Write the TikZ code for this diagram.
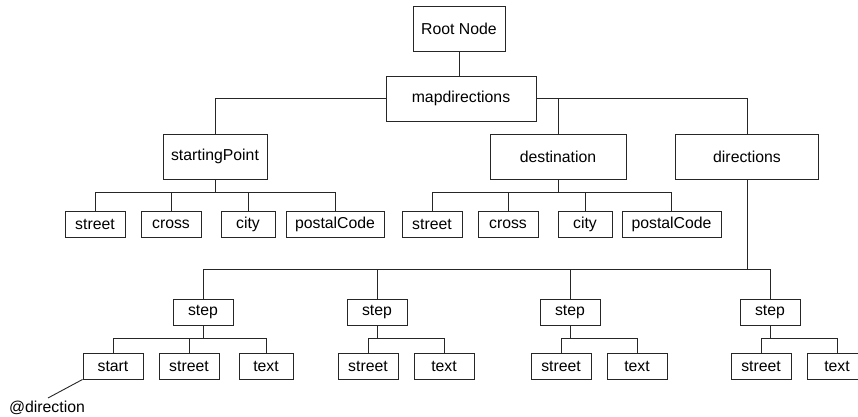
\documentclass[tikz,border=0pt]{standalone}
\usepackage{fontspec}
\setmainfont{Liberation Sans}
\usepackage{tikz}
\usetikzlibrary{positioning, calc}
\tikzset{
    box_tall/.style={
        rectangle, draw=black!85, line width=0.9pt, fill=white,
        minimum height=45, inner sep=0pt,
        align=center, font=\fontsize{15.8}{18}\selectfont
    },
    box_flat/.style={
        rectangle, draw=black!85, line width=0.9pt, fill=white,
        minimum height=26, minimum width=60, inner sep=0pt,
        align=center, font=\fontsize{15.8}{18}\selectfont
    },
    tree_line/.style={
        draw=black!85, line width=0.9pt
    },
    attr_lbl/.style={
        inner sep=0pt, font=\fontsize{15.8}{18}\selectfont
    }
}

\begin{document}
\begin{tikzpicture}[x=1pt, y=-1pt]

    \useasboundingbox (0,0) rectangle (858,416);
    \clip (0,0) rectangle (858,416);

    % upper levels
    \node[box_tall, minimum width=92]  (root)    at (459,29)    {Root Node};
    \node[box_tall, minimum width=150] (mapdir)  at (461,98.5)  {mapdirections};
    \node[box_tall, minimum width=104] (startpt) at (215,156.5) {startingPoint};
    \node[box_tall, minimum width=136] (dest)    at (558,156.5) {destination};
    \node[box_tall, minimum width=143] (dirs)    at (747,156.5) {directions};

    \node[box_flat]                   (sp_street) at (95,224)  {street};
    \node[box_flat]                   (sp_cross)  at (171,224) {cross};
    \node[box_flat, minimum width=54] (sp_city)   at (248,224) {city};
    \node[box_flat, minimum width=98] (sp_postal) at (335,224) {postalCode};

    \node[box_flat]                   (de_street) at (432,224)   {street};
    \node[box_flat]                   (de_cross)  at (508,224)   {cross};
    \node[box_flat, minimum width=54] (de_city)   at (585,224)   {city};
    \node[box_flat, minimum width=99] (de_postal) at (671.5,224) {postalCode};

    % steps
    \node[box_flat] (step_a) at (203,312) {step};
    \node[box_flat] (step_b) at (377,312) {step};
    \node[box_flat] (step_c) at (570,312) {step};
    \node[box_flat] (step_d) at (770,312) {step};

    \node[box_flat]                   (a_start)  at (113,366) {start};
    \node[box_flat]                   (a_street) at (189,366) {street};
    \node[box_flat, minimum width=54] (a_text)   at (266,366) {text};
    \node[box_flat]                   (b_street) at (368,366) {street};
    \node[box_flat]                   (b_text)   at (444,366) {text};
    \node[box_flat]                   (c_street) at (561,366) {street};
    \node[box_flat]                   (c_text)   at (637,366) {text};
    \node[box_flat]                   (d_street) at (761,366) {street};
    \node[box_flat]                   (d_text)   at (837,366) {text};

    \node[attr_lbl] (dir_attr) at (47,408) {@direction};

    % bus points
    \coordinate (sp_bus)   at (215,192);
    \coordinate (de_bus)   at (558,192);
    \coordinate (dirs_bus) at (747,269);
    \coordinate (a_bus)    at (203,338);
    \coordinate (b_bus)    at (377,338);
    \coordinate (c_bus)    at (570,338);
    \coordinate (d_bus)    at (770,338);

    \draw[tree_line] (root.south) -- (root.south |- mapdir.north);
    \draw[tree_line] (mapdir.west) -| (startpt.north);
    \draw[tree_line] (mapdir.east) -| (dirs.north);
    \draw[tree_line] (dest.north) -- (dest.north |- mapdir.east);

    \draw[tree_line] (startpt.south) -- (sp_bus);
    \foreach \c in {sp_street, sp_cross, sp_city, sp_postal}
        \draw[tree_line] (\c.north) |- (sp_bus);
    \draw[tree_line] (dest.south) -- (de_bus);
    \foreach \c in {de_street, de_cross, de_city, de_postal}
        \draw[tree_line] (\c.north) |- (de_bus);

    \draw[tree_line] (dirs.south) -- (dirs_bus);
    \foreach \s in {step_a, step_b, step_c, step_d}
        \draw[tree_line] (\s.north) |- (dirs_bus);

    \draw[tree_line] (step_a.south) -- (a_bus);
    \foreach \c in {a_start, a_street, a_text}
        \draw[tree_line] (\c.north) |- (a_bus);
    \draw[tree_line] (step_b.south) -- (b_bus);
    \foreach \c in {b_street, b_text}
        \draw[tree_line] (\c.north) |- (b_bus);
    \draw[tree_line] (step_c.south) -- (c_bus);
    \foreach \c in {c_street, c_text}
        \draw[tree_line] (\c.north) |- (c_bus);
    \draw[tree_line] (step_d.south) -- (d_bus);
    \foreach \c in {d_street, d_text}
        \draw[tree_line] (\c.north) |- (d_bus);

    \draw[tree_line] (a_start.south west) -- ($(dir_attr.north)+(1,-3)$);

\end{tikzpicture}
\end{document}
